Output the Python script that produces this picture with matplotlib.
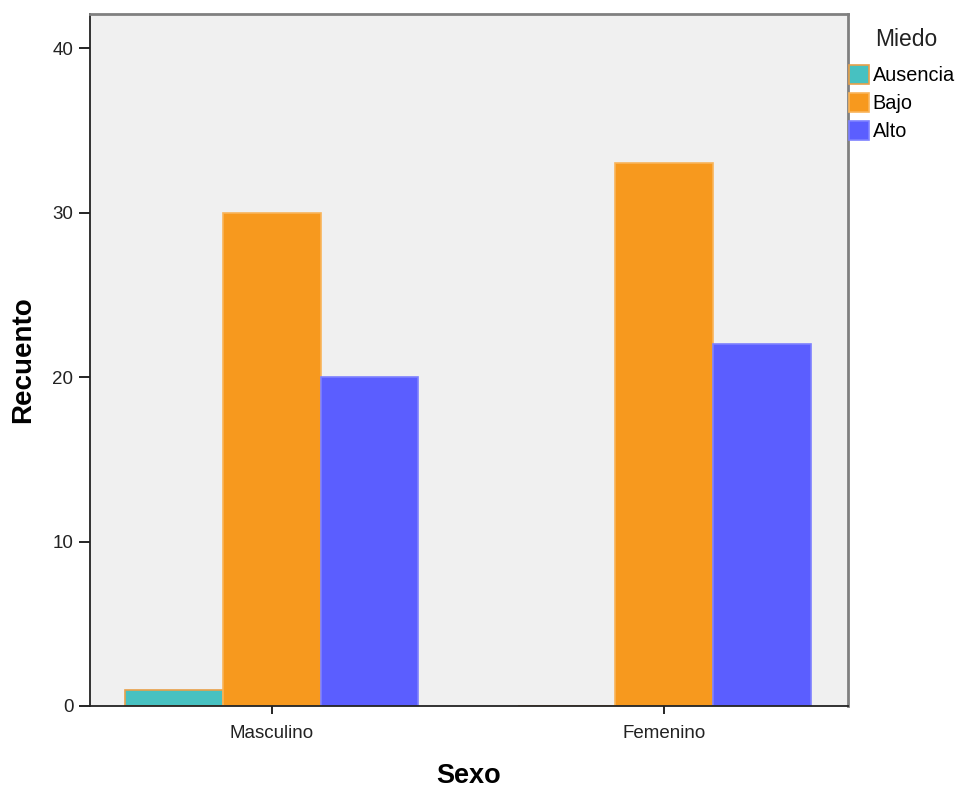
import matplotlib.pyplot as plt
import numpy as np
from matplotlib.patches import Patch

plt.rcParams['font.family'] = ['Liberation Sans', 'DejaVu Sans']

# data
sexo = ['Masculino', 'Femenino']
niveles = ['Ausencia', 'Bajo', 'Alto']
ausencia = [1, 0]
bajo = [30, 33]
alto = [20, 22]
colores = ['#47C1C1', '#F7991E', '#5B5EFF']
bordes = ['#E8A04A', '#F9B45A', '#7D80FF']

fig = plt.figure(figsize=(9.65, 7.9), dpi=100)
ax = fig.add_axes([90 / 965, 1 - 706 / 790, (848 - 90) / 965, (706 - 14) / 790])
ax.set_facecolor('#F0F0F0')

x = np.arange(len(sexo))
w = 0.249
for i, (vals, c, e) in enumerate(zip([ausencia, bajo, alto], colores, bordes)):
    ax.bar(x + (i - 1) * w, vals, width=w, color=c, edgecolor=e, linewidth=1.2)

ax.set_xlim(-0.464, 1.469)
ax.set_ylim(0, 42.07)
ax.set_yticks([0, 10, 20, 30, 40])
ax.set_xticks(x)
ax.set_xticklabels(sexo)
ax.tick_params(axis='both', direction='out', length=6, width=1.2, labelsize=13.5,
               colors='black', labelcolor='#222222', pad=4)
ax.tick_params(axis='y', length=8)
ax.tick_params(axis='x', pad=8)

for s in ['left', 'bottom']:
    ax.spines[s].set_color('#222222')
    ax.spines[s].set_linewidth(1.3)
for s in ['top', 'right']:
    ax.spines[s].set_color('#808080')
    ax.spines[s].set_linewidth(2)

ax.set_ylabel('Recuento', fontsize=20, fontweight='bold', labelpad=12)
ax.set_xlabel('Sexo', fontsize=19.5, fontweight='bold', labelpad=15)

# legend
handles = [Patch(facecolor=c, edgecolor=e, linewidth=1.2) for c, e in zip(colores, bordes)]
fig.legend(handles, niveles, loc='upper left', bbox_to_anchor=(849 / 965, 1 - 65 / 790),
           frameon=False, fontsize=14.3, handlelength=1.0, handleheight=1.1,
           handletextpad=0.2, labelspacing=0.38, borderaxespad=0, borderpad=0)
fig.text(875 / 965, 1 - 40 / 790, 'Miedo', fontsize=16.5, va='center', ha='left',
         color='#222222')

fig.savefig('out.png', dpi=100, facecolor='white')
